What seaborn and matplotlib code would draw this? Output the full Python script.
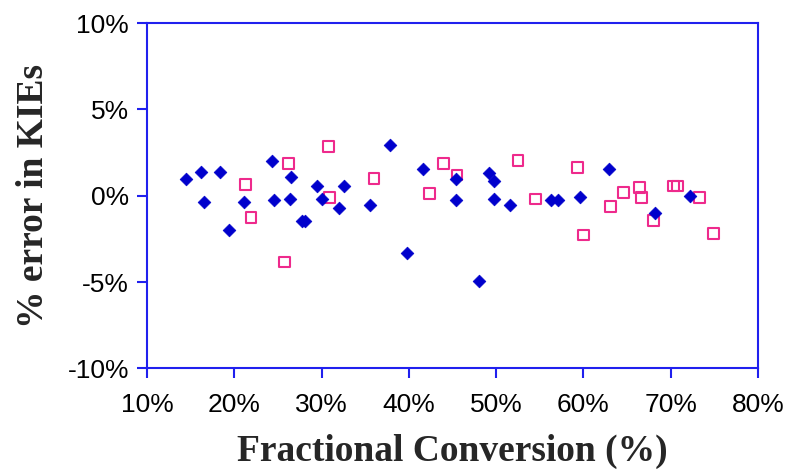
import matplotlib
matplotlib.use("Agg")
import matplotlib.pyplot as plt
import seaborn as sns
import pandas as pd
from matplotlib.ticker import FuncFormatter

# Series 1: filled blue diamonds (conversion %, error %)
blue_x = [14.4, 16.2, 18.3, 16.5, 19.4, 21.1, 24.3, 24.5, 26.5, 26.4, 27.7, 28.1,
          29.5, 30.0, 32.6, 32.0, 37.8, 35.5, 41.6, 45.4, 45.4, 39.8, 48.0, 49.2,
          49.8, 49.8, 51.6, 56.3, 57.1, 59.6, 62.9, 68.2, 72.2]
blue_y = [1.0, 1.39, 1.39, -0.36, -2.0, -0.36, 2.03, -0.25, 1.1, -0.17, -1.47, -1.47,
          0.56, -0.17, 0.56, -0.73, 2.94, -0.56, 1.55, 1.0, -0.25, -3.3, -4.96, 1.3,
          0.83, -0.17, -0.56, -0.27, -0.27, -0.1, 1.55, -1.0, 0.0]

# Series 2: open pink squares
pink_x = [21.3, 21.9, 25.7, 26.2, 30.8, 30.9, 36.0, 44.0, 45.5, 42.4, 52.5, 54.5,
          59.3, 60.0, 63.1, 64.6, 66.4, 66.7, 68.0, 70.3, 70.8, 73.3, 74.9]
pink_y = [0.66, -1.27, -3.84, 1.85, 2.86, -0.08, 1.0, 1.85, 1.2, 0.12, 2.03, -0.19,
          1.66, -2.28, -0.64, 0.2, 0.46, -0.1, -1.45, 0.56, 0.56, -0.1, -2.2]

x_ticks = [10, 20, 30, 40, 50, 60, 70, 80]
y_ticks = [-10, -5, 0, 5, 10]

sns.set_theme(style="white")
plt.rcParams['font.family'] = ['Liberation Sans', 'DejaVu Sans']

fig = plt.figure(figsize=(7.96, 4.74), dpi=100)
ax = fig.add_axes([0.185, 0.223, 0.767, 0.728])

blue_df = pd.DataFrame({"x": blue_x, "y": blue_y})
pink_df = pd.DataFrame({"x": pink_x, "y": pink_y})

sns.scatterplot(data=pink_df, x="x", y="y", ax=ax, marker="s", s=60,
                facecolor="none", edgecolor="#EE2A8C", linewidth=1.5, zorder=3)
sns.scatterplot(data=blue_df, x="x", y="y", ax=ax, marker="D", s=42,
                color="#0000CC", edgecolor="#0000CC", linewidth=0.5, zorder=4)

ax.set_xlim(10, 80)
ax.set_ylim(-10, 10)
ax.set_xticks(x_ticks)
ax.set_yticks(y_ticks)
ax.xaxis.set_major_formatter(FuncFormatter(lambda v, p: f"{int(round(v))}%"))
ax.yaxis.set_major_formatter(FuncFormatter(lambda v, p: f"{int(round(v))}%"))

spine_color = "#2020EE"
for s in ax.spines.values():
    s.set_visible(True)
    s.set_color(spine_color)
    s.set_linewidth(1.5)

ax.tick_params(axis="both", which="major", direction="out", length=7, width=1.5,
               color=spine_color, labelsize=19, labelcolor="black")
ax.tick_params(axis="x", pad=11)
ax.tick_params(axis="y", pad=6)
ax.tick_params(top=False, right=False, bottom=True, left=True)

ax.set_xlabel("Fractional Conversion (%)", fontsize=27, fontweight="bold",
              family=["Liberation Serif", "DejaVu Serif"], labelpad=12)
ax.set_ylabel("% error in KIEs", fontsize=27, fontweight="bold",
              family=["Liberation Serif", "DejaVu Serif"], labelpad=12)

ax.grid(False)
fig.savefig("out.png", dpi=100, facecolor="white")
